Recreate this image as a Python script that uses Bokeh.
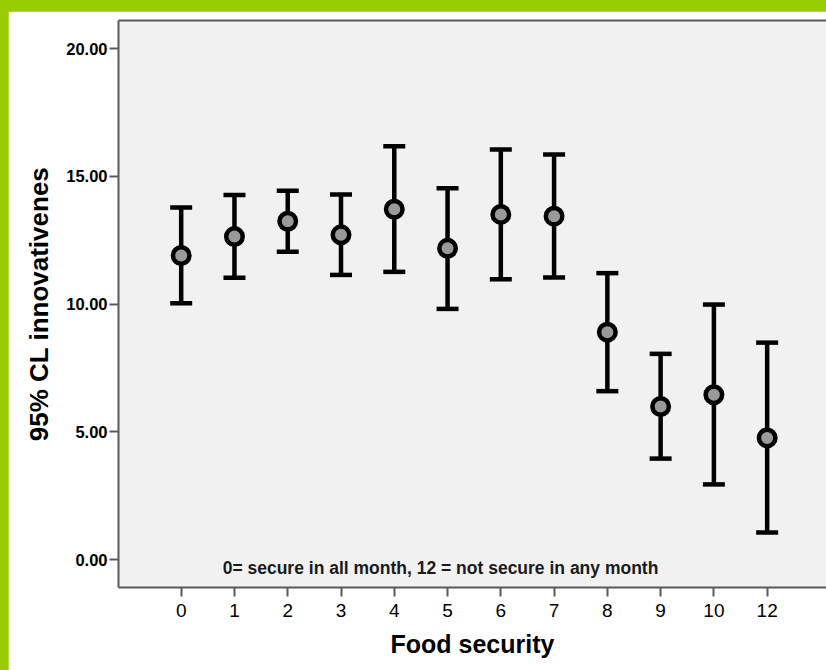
from bokeh.plotting import figure
from bokeh.models import (Range1d, FixedTicker, PrintfTickFormatter, LinearAxis,
                          Label, Whisker, TeeHead, ColumnDataSource)
from bokeh.embed import file_html
from bokeh.resources import INLINE

categories = ["0", "1", "2", "3", "4", "5", "6", "7", "8", "9", "10", "12"]
means = [11.90, 12.64, 13.24, 12.71, 13.71, 12.18, 13.51, 13.44, 8.90, 5.99, 6.45, 4.76]
upper = [13.78, 14.27, 14.44, 14.29, 16.18, 14.53, 16.05, 15.85, 11.21, 8.05, 9.98, 8.49]
lower = [10.03, 11.03, 12.05, 11.14, 11.26, 9.81, 10.97, 11.04, 6.59, 3.95, 2.94, 1.06]
y_ticks = [0, 5, 10, 15, 20]
x_title = "Food security"
y_title = "95% CL innovativenes"
note = "0= secure in all month, 12 = not secure in any month"

FONT = "Liberation Sans"
AXIS_COLOR = "#5a5a5a"

pos = list(range(len(categories)))
src = ColumnDataSource(dict(x=pos, mean=means, upper=upper, lower=lower))

p = figure(width=818, height=659, output_backend="svg", toolbar_location=None,
           x_range=Range1d(-1.177, 12.114), y_range=Range1d(-1.096, 21.10),
           min_border_left=110, min_border_right=0, min_border_top=9, min_border_bottom=83,
           background_fill_color="#F1F1F1", border_fill_color="white",
           outline_line_color=None)
p.xgrid.visible = False
p.ygrid.visible = False

# whiskers
w = Whisker(source=src, base="x", upper="upper", lower="lower",
            line_color="black", line_width=4.5, level="underlay",
            upper_head=TeeHead(size=22, line_width=4.5, line_color="black"),
            lower_head=TeeHead(size=22, line_width=4.5, line_color="black"))
p.add_layout(w)

p.scatter("x", "mean", source=src, size=16.5, fill_color="#9A9A9A",
          line_color="black", line_width=4.5)

# x axis
xa = p.xaxis[0]
xa.ticker = FixedTicker(ticks=pos)
xa.major_label_overrides = {i: c for i, c in enumerate(categories)}
xa.minor_tick_line_color = None
xa.major_tick_in = 0
xa.major_tick_out = 9
xa.major_tick_line_width = 2
xa.major_tick_line_color = AXIS_COLOR
xa.axis_line_color = AXIS_COLOR
xa.axis_line_width = 2
xa.major_label_text_font = FONT
xa.major_label_text_font_size = "19px"
xa.major_label_text_color = "black"
xa.major_label_standoff = 7
xa.axis_label = x_title
xa.axis_label_text_font = FONT
xa.axis_label_text_font_size = "25px"
xa.axis_label_text_font_style = "bold"
xa.axis_label_text_color = "black"
xa.axis_label_standoff = 10

# y axis
ya = p.yaxis[0]
ya.ticker = FixedTicker(ticks=y_ticks)
ya.formatter = PrintfTickFormatter(format="%.2f")
ya.minor_tick_line_color = None
ya.major_tick_in = 0
ya.major_tick_out = 9
ya.major_tick_line_width = 2
ya.major_tick_line_color = AXIS_COLOR
ya.axis_line_color = AXIS_COLOR
ya.axis_line_width = 2
ya.major_label_text_font = FONT
ya.major_label_text_font_size = "16.5px"
ya.major_label_text_font_style = "bold"
ya.major_label_text_color = "black"
ya.major_label_standoff = 2
ya.axis_label = y_title
ya.axis_label_text_font = FONT
ya.axis_label_text_font_size = "26px"
ya.axis_label_text_font_style = "bold"
ya.axis_label_text_color = "black"
ya.axis_label_standoff = 9

# top frame line
top = LinearAxis(ticker=FixedTicker(ticks=[]), axis_line_color=AXIS_COLOR, axis_line_width=2,
                 major_tick_line_color=None, minor_tick_line_color=None,
                 major_label_text_font_size="0px", major_tick_in=0, major_tick_out=0)
p.add_layout(top, "above")

p.add_layout(Label(x=4.868, y=-0.35, text=note, text_align="center", text_baseline="middle",
                   text_font=FONT, text_font_style="bold", text_font_size="17.5px",
                   text_color="#1a1a1a"))

html = file_html(p, INLINE)
html = html.replace("</head>",
                    "<style>html,body{overflow:hidden;background:#99CC00;}"
                    "body{margin:0;padding:11px 0 0 8px;}</style></head>", 1)
open("out.html", "w").write(html)
